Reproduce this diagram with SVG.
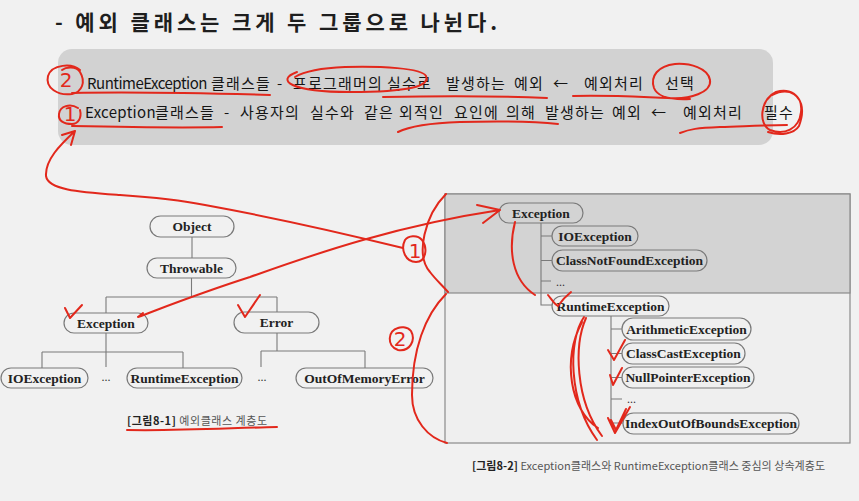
<svg xmlns="http://www.w3.org/2000/svg" width="859" height="501" viewBox="0 0 859 501">
<style>
.node rect{fill:none;stroke:#7a7a7a;stroke-width:1.2}
.node text{font-family:"Liberation Serif",serif;font-weight:bold;font-size:13.5px;fill:#222;text-anchor:middle}
.conn path{fill:none;stroke:#7a7a7a;stroke-width:1.1}
.dots{font-family:"Liberation Serif",serif;font-size:12px;fill:#333}
.kr{font-family:"Noto Sans CJK KR","Noto Sans",sans-serif;fill:#1e1e1e}
.ln{font-family:"Noto Sans CJK KR","Noto Sans",sans-serif;fill:#151515;font-size:15px;letter-spacing:1.2px}
.red path{fill:none;stroke:#e2281c;stroke-width:2;stroke-linecap:round;stroke-linejoin:round}
.red text{font-family:"DejaVu Sans",sans-serif;fill:#e2281c;font-size:20px;text-anchor:middle}
</style>
<rect width="859" height="501" fill="#f1f1f1"/>
<text class="kr" x="55" y="30" font-size="21" font-weight="bold" textLength="442" lengthAdjust="spacing">- 예외 클래스는 크게 두 그룹으로 나뉜다.</text>
<rect x="58" y="49" width="715" height="96" rx="14" fill="#d2d2d2"/>
<text class="ln" y="88.5"><tspan x="87" letter-spacing="-0.5">RuntimeException</tspan><tspan x="211">클래스들</tspan><tspan x="277">-</tspan><tspan x="293">프로그래머의</tspan><tspan x="387">실수로</tspan><tspan x="446">발생하는</tspan><tspan x="514">예외</tspan><tspan x="553">←</tspan><tspan x="584">예외처리</tspan><tspan x="665">선택</tspan></text>
<text class="ln" y="117.5"><tspan x="85" letter-spacing="0.3">Exception</tspan><tspan x="155">클래스들</tspan><tspan x="224">-</tspan><tspan x="240">사용자의</tspan><tspan x="310">실수와</tspan><tspan x="364">같은</tspan><tspan x="399">외적인</tspan><tspan x="454">요인에</tspan><tspan x="506">의해</tspan><tspan x="545">발생하는</tspan><tspan x="612">예외</tspan><tspan x="651">←</tspan><tspan x="683">예외처리</tspan><tspan x="764">필수</tspan></text>

<rect x="445" y="194" width="405" height="249" fill="#efefef" stroke="#8a8a8a" stroke-width="1.2"/>
<rect x="445" y="194" width="405" height="99" fill="#d3d3d3" stroke="#8a8a8a" stroke-width="1.2"/>

<g class="conn" id="connectors">
<path d="M192,237V258"/>
<path d="M191.5,278V297M106,297H277M106,297V313M277,297V312"/>
<path d="M106,333V367M42,352H183M42,352V368M183,352V368"/>
<path d="M277,333V351M261,351H365M261,351V367M365,351V368"/>
<path d="M541,223V305H552M541,236H552M541,260.5H552M541,281H551"/>
<path d="M611,316V423H623M611,329H622M611,353.5H622M611,377.5H622M611,399H622"/>
</g>

<g class="node" id="n-object"><rect x="150" y="216" width="84" height="21" rx="10.5"/><text x="192" y="231">Object</text></g>
<g class="node" id="n-throwable"><rect x="147" y="258" width="89" height="20" rx="10"/><text x="191.5" y="272.5">Throwable</text></g>
<g class="node" id="n-exception1"><rect x="64" y="313" width="84" height="20" rx="10"/><text x="106" y="327.5">Exception</text></g>
<g class="node" id="n-error"><rect x="234" y="312" width="85" height="21" rx="10.5"/><text x="276.5" y="327">Error</text></g>
<g class="node" id="n-ioexception1"><rect x="1" y="368" width="87" height="20" rx="10"/><text x="44.5" y="382.5">IOException</text></g>
<g class="node" id="n-runtime1"><rect x="127" y="368" width="115" height="20" rx="10"/><text x="184.5" y="382.5">RuntimeException</text></g>
<g class="node" id="n-oom"><rect x="296" y="368" width="137" height="20" rx="10"/><text x="364.5" y="382.5">OutOfMemoryError</text></g>
<text class="dots" x="106" y="381" text-anchor="middle">...</text>
<text class="dots" x="262" y="381" text-anchor="middle">...</text>

<g class="node" id="n-exception2"><rect x="499" y="203" width="84" height="20" rx="10"/><text x="541" y="217.5">Exception</text></g>
<g class="node" id="n-ioexception2"><rect x="552" y="226" width="86" height="20" rx="10"/><text x="595" y="240.5">IOException</text></g>
<g class="node" id="n-cnf"><rect x="552" y="250" width="155" height="21" rx="10.5"/><text x="629.5" y="265">ClassNotFoundException</text></g>
<text class="dots" x="556" y="286">...</text>
<g class="node" id="n-runtime2"><rect x="552" y="296" width="117" height="20" rx="10"/><text x="610.5" y="310.5">RuntimeException</text></g>
<g class="node" id="n-arith"><rect x="622" y="318" width="129" height="22" rx="11"/><text x="686.5" y="333.5">ArithmeticException</text></g>
<g class="node" id="n-cce"><rect x="622" y="343" width="123" height="21" rx="10.5"/><text x="683.5" y="358">ClassCastException</text></g>
<g class="node" id="n-npe"><rect x="622" y="367" width="132" height="21" rx="10.5"/><text x="688" y="382">NullPointerException</text></g>
<text class="dots" x="627" y="403">...</text>
<g class="node" id="n-ioobe"><rect x="623" y="413" width="176" height="21" rx="10.5"/><text x="711" y="428">IndexOutOfBoundsException</text></g>

<text class="kr" x="127" y="425" font-size="11" textLength="140" lengthAdjust="spacing"><tspan font-weight="bold" fill="#222">[그림8-1]</tspan><tspan fill="#555"> 예외클래스 계층도</tspan></text>
<text class="kr" x="472" y="470" font-size="11" textLength="353" lengthAdjust="spacing"><tspan font-weight="bold" fill="#222">[그림8-2]</tspan><tspan fill="#555"> Exception클래스와 RuntimeException클래스 중심의 상속계층도</tspan></text>

<g class="red" id="annotations">
<path d="M80,70C72,63 52,64 48,76C45,88 58,96 72,94C82,92 86,82 80,72C76,66 66,67 62,70"/>
<text x="66" y="87">2</text>
<path d="M72,93C120,92 200,93 270,95"/>
<path d="M297,72C275,80 290,92 350,92C410,92 430,86 426,76C422,68 380,66 345,67C320,68 305,71 295,77"/>
<path d="M383,97C440,96 500,96 547,98"/>
<path d="M573,96C610,95 640,97 668,98C690,100 712,92 710,80C708,68 690,63 675,64C658,66 650,76 654,88C657,96 670,100 690,99"/>
<path d="M78,108C70,103 60,106 59,114C58,121 64,124 72,124C78,124 82,118 80,110"/>
<text x="70" y="121" font-size="17">1</text>
<path d="M72,126C120,127 180,128 222,127"/>
<path d="M398,132C410,126 430,123 460,122C500,121 530,121 558,124"/>
<path d="M680,133C690,129 697,128 720,127C750,126 770,125 787,125"/>
<path d="M772,95C790,86 803,96 801,112C799,130 784,135 770,130C758,124 760,100 776,92C795,86 808,102 799,126C794,134 780,136 768,132"/>
<path d="M75,131L62,135M75,131L71,145M75,131C60,145 45,160 46,176C48,190 80,192 120,195C150,197 175,199 205,205C260,215 330,230 403,248"/>
<path d="M405,240C400,250 406,262 416,262C426,262 428,248 422,240C417,234 408,236 405,240"/>
<text x="415" y="258" font-size="16">1</text>
<path d="M138,317C170,305 200,293 250,277C320,252 400,225 500,210M477,205L500,210L483,223M138,317L143,313"/>
<path d="M446,194C425,215 415,255 430,272C436,280 442,285 448,292"/>
<path d="M446,294C425,315 412,350 412,395C412,420 428,438 447,443"/>
<path d="M398,328C388,330 386,346 398,350C410,352 416,340 411,331C407,326 400,327 398,328"/>
<text x="400" y="346" font-size="16">2</text>
<path d="M65,308L70,318L82,305"/>
<path d="M238,305L245,317L260,295"/>
<path d="M515,222C508,250 512,280 535,295"/>
<path d="M548,295C552,300 555,305 558,306C562,300 566,296 571,292"/>
<path d="M584,317C568,340 568,400 597,440M586,318C574,345 575,400 602,436M582,322C562,360 570,410 598,428"/>
<path d="M608,350L614,360L625,340"/>
<path d="M610,375L613,385L622,368"/>
<path d="M608,418L615,433L630,407M611,420L616,430L626,409"/>
<path d="M127,430C180,431 230,428 277,427"/>
</g>
</svg>
